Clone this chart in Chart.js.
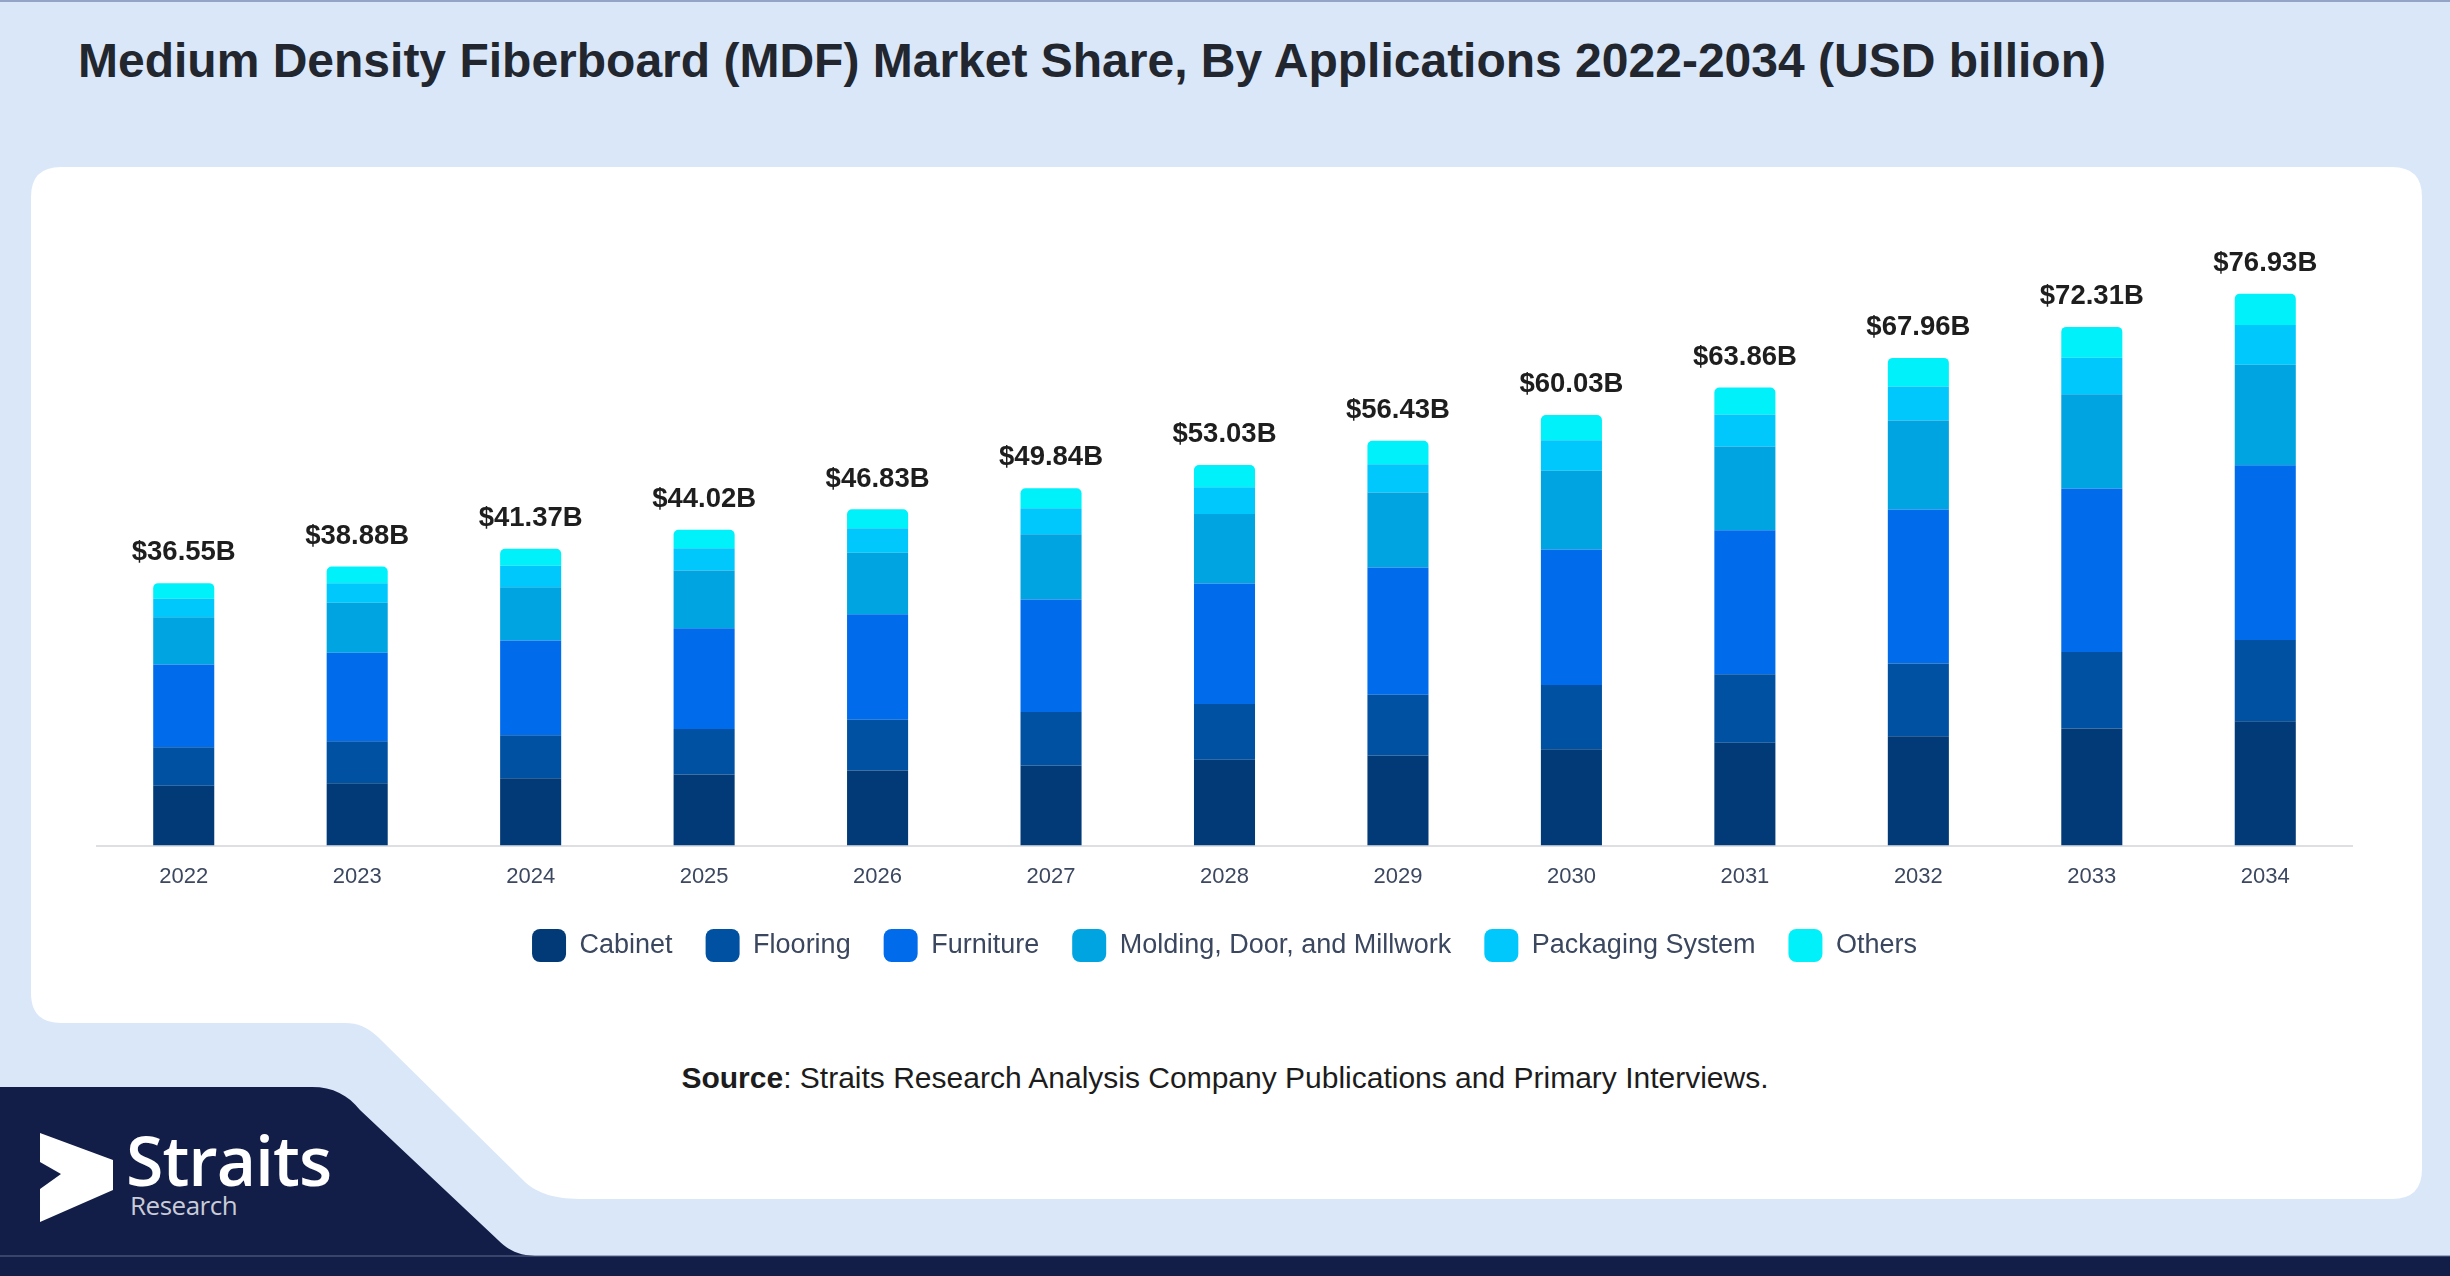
<!DOCTYPE html>
<html>
<head>
<meta charset="utf-8">
<script src="https://cdn.jsdelivr.net/npm/chart.js@4.4.1/dist/chart.umd.min.js"></script>
<style>
  html, body { margin: 0; padding: 0; }
  body { width: 2450px; height: 1276px; position: relative; overflow: hidden; background: #dae7f9; font-family: 'Liberation Sans', Arial, sans-serif; }
  #bg { position: absolute; left: 0; top: 0; }
  #title { position: absolute; left: 78px; top: 31px; font-size: 48px; font-weight: bold; color: #22262e; white-space: nowrap; line-height: 60px; }
  #chartWrap { position: absolute; left: 31px; top: 167px; width: 2391px; height: 805px; }
  #source { position: absolute; left: 0; width: 2450px; top: 1060px; text-align: center; font-size: 30px; color: #1c1c1c; line-height: 36px; }
  #logoText { position: absolute; left: 126px; top: 1120px; font-family: 'Open Sans', sans-serif; font-weight: 600; font-size: 68px; color: #ffffff; line-height: 80px; letter-spacing: -1px; }
  #logoSub { position: absolute; left: 130px; top: 1190px; font-family: 'Open Sans', sans-serif; font-size: 26px; color: #c9ccd8; line-height: 30px; letter-spacing: -0.5px; }
</style>
</head>
<body>
<svg id="bg" width="2450" height="1276" viewBox="0 0 2450 1276">
  <rect x="0" y="0" width="2450" height="1276" fill="#dae7f9"/>
  <rect x="0" y="0" width="2450" height="2" fill="#93a4c6"/>
  <path d="M61,167 H2392 Q2422,167 2422,197 V1169 Q2422,1199 2392,1199 H585 C556,1199 541,1195 526,1183 L378,1037 C367,1027 358,1023 345,1023 H61 Q31,1023 31,993 V197 Q31,167 61,167 Z" fill="#ffffff"/>
  <path d="M0,1087 H312 C333,1087 348,1095 360,1110 L498,1240 C509,1251 520,1256 540,1256 H2450 V1276 H0 Z" fill="#121e47"/>
  <rect x="0" y="1255" width="2450" height="2" fill="#5d6a8c" opacity="0.5"/>
  <path d="M40,1133 L113,1160 L113,1190 L40,1222 L40,1189 L61,1174 L40,1162 Z" fill="#ffffff"/>
</svg>
<div id="title">Medium Density Fiberboard (MDF) Market Share, By Applications 2022-2034 (USD billion)</div>
<div id="chartWrap"><canvas id="c" width="2391" height="805"></canvas></div>
<div id="source"><b>Source</b>: Straits Research Analysis Company Publications and Primary Interviews.</div>
<div id="logoText">Straits</div>
<div id="logoSub">Research</div>
<script>
const years = ['2022','2023','2024','2025','2026','2027','2028','2029','2030','2031','2032','2033','2034'];
const cabinet   = [8.33, 8.69, 9.39, 9.90, 10.47, 11.17, 11.96, 12.57, 13.44, 14.34, 15.23, 16.31, 17.32];
const flooring  = [5.39, 5.86, 6.00, 6.37, 7.08, 7.45, 7.77, 8.47, 8.96, 9.56, 10.16, 10.69, 11.35];
const furniture = [11.53, 12.32, 13.19, 14.04, 14.71, 15.69, 16.81, 17.74, 18.88, 20.07, 21.45, 22.79, 24.37];
const molding   = [6.60, 6.97, 7.44, 8.04, 8.57, 9.08, 9.68, 10.43, 10.99, 11.65, 12.43, 13.14, 13.98];
const packaging = [2.56, 2.74, 2.98, 3.11, 3.40, 3.63, 3.72, 3.96, 4.24, 4.48, 4.72, 5.08, 5.56];
const others    = [2.18, 2.32, 2.37, 2.56, 2.65, 2.79, 3.12, 3.26, 3.52, 3.76, 4.00, 4.30, 4.36];
const totals    = [36.55, 38.88, 41.37, 44.02, 46.83, 49.84, 53.03, 56.43, 60.03, 63.86, 67.96, 72.31, 76.93];
const seriesNames = ['Cabinet', 'Flooring', 'Furniture', 'Molding, Door, and Millwork', 'Packaging System', 'Others'];
const seriesColors = ['#013a76', '#0151a3', '#006ceb', '#00a4e0', '#00c8fc', '#00f1f9'];
const seriesValues = [cabinet, flooring, furniture, molding, packaging, others];

const FONT = "'Liberation Sans', Arial, sans-serif";

const datasets = seriesValues.map((vals, k) => ({
  label: seriesNames[k],
  data: vals,
  backgroundColor: seriesColors[k],
  borderWidth: 0,
  borderRadius: k === seriesValues.length - 1 ? {topLeft: 5, topRight: 5, bottomLeft: 0, bottomRight: 0} : 0,
  categoryPercentage: 1.0,
  barPercentage: 0.352
}));

const totalLabels = {
  id: 'totalLabels',
  afterDatasetsDraw(chart) {
    const ctx = chart.ctx;
    const xs = chart.scales.x, ys = chart.scales.y;
    ctx.save();
    ctx.font = "bold 27.5px " + FONT;
    ctx.fillStyle = '#1e1e1e';
    ctx.textAlign = 'center';
    ctx.textBaseline = 'alphabetic';
    totals.forEach((t, i) => {
      const x = xs.getPixelForValue(i);
      const y = ys.getPixelForValue(t);
      ctx.fillText('$' + t.toFixed(2) + 'B', x, y - 23);
    });
    ctx.restore();
  }
};

new Chart(document.getElementById('c'), {
  type: 'bar',
  data: { labels: years, datasets },
  options: {
    responsive: false,
    animation: false,
    devicePixelRatio: 1,
    layout: { padding: { top: 33, left: 66, right: 70, bottom: 0 } },
    scales: {
      x: {
        stacked: true,
        grid: { display: false, drawTicks: false },
        border: { display: true, color: '#dedfe3', width: 2 },
        ticks: { color: '#3c4860', font: { family: FONT, size: 22 }, padding: 18 },
        afterFit(scale) { scale.height -= 12; }
      },
      y: {
        stacked: true,
        display: false,
        min: 0,
        max: 90
      }
    },
    plugins: {
      legend: {
        position: 'bottom',
        labels: {
          boxWidth: 34,
          boxHeight: 33,
          useBorderRadius: true,
          borderRadius: 8,
          padding: 33,
          color: '#3a475f',
          font: { family: FONT, size: 27 }
        }
      },
      tooltip: { enabled: false }
    }
  },
  plugins: [totalLabels]
});
</script>
</body>
</html>
